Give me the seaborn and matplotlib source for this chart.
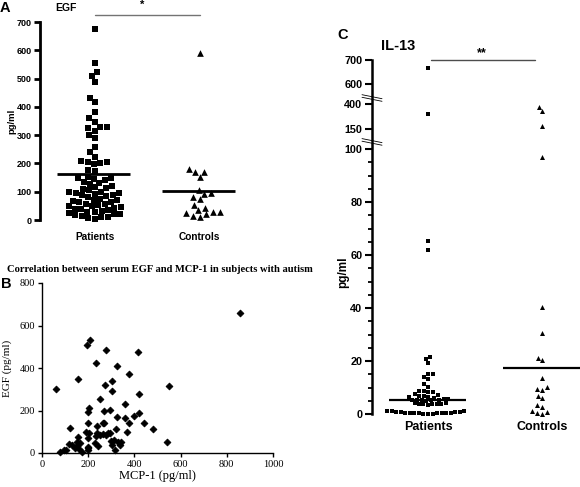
import numpy as np
import pandas as pd
import matplotlib
matplotlib.use("Agg")
import matplotlib.pyplot as plt
import matplotlib.transforms as mtransforms
import seaborn as sns

groups = ["Patients", "Controls"]

# panel A: serum EGF (pg/ml)
egf_patients = [677, 554, 522, 508, 488, 432, 418, 383, 359, 348, 330, 328, 324,
                316, 300, 289, 259, 239, 222, 209, 206, 205, 203, 197, 177, 175,
                153, 150, 148, 145, 140, 135, 132, 128, 120, 115, 112, 110, 105,
                100, 98, 95, 94, 92, 90, 88, 85, 80, 75, 72, 70, 68, 65, 62, 58,
                55, 53, 50, 48, 45, 42, 40, 38, 35, 32, 30, 28, 25, 22, 20, 18,
                15, 12, 10, 8, 5]
egf_controls = [592, 180, 169, 169, 151, 106, 94, 91, 82, 73, 53, 44, 35, 30,
                28, 24, 20, 15, 12]
egf_centre = [163, 103]

# panel B: MCP-1 vs EGF in patients
mcp1_x = [61, 157, 196, 207, 233, 279, 324, 416, 376, 550, 273, 304, 303, 419,
          359, 251, 204, 200, 269, 293, 324, 359, 376, 399, 421, 443, 479, 543,
          121, 197, 239, 264, 190, 204, 239, 250, 264, 286, 296, 319, 367, 154,
          200, 229, 243, 300, 304, 329, 336, 340, 314, 119, 153, 150, 164, 143,
          171, 197, 200, 79, 96, 104, 855, 130, 160, 235, 275, 310, 200, 270]
egf_y = [303, 347, 510, 532, 423, 487, 409, 475, 374, 314, 322, 339, 293, 279,
         232, 252, 213, 191, 198, 202, 168, 167, 143, 176, 187, 140, 115, 50,
         120, 140, 129, 140, 98, 93, 93, 86, 90, 93, 96, 114, 98, 75,
         72, 47, 31, 58, 39, 54, 39, 54, 16, 44, 50, 31, 47, 23,
         3, 23, 12, 5, 12, 16, 660, 38, 20, 80, 85, 60, 28, 142]

# panel C: serum IL-13 (pg/ml)
il13_patients = [667, 298, 65.3, 62.0, 21.6, 20.6, 19.1, 15.1, 15.1, 14.1, 13.1,
                 11.2, 10.3, 8.7, 8.7, 8.4, 8.4, 7.4, 7.2, 6.9, 6.8, 6.5, 6.5,
                 6.2, 5.4, 5.3, 5.2, 5.5, 5.1, 5.3, 5.6, 5.0, 3.9, 3.7, 4.0,
                 3.6, 3.8, 3.9, 3.5, 4.1, 1.2, 1.0, 0.9, 1.1, 0.8, 0.7, 0.6,
                 0.5, 0.5, 0.4, 0.4, 0.3, 0.3, 0.2, 0.2, 0.1, 0.1, 0.0]
il13_controls = [372, 335, 178, 97, 40.5, 30.7, 21.2, 20.4, 13.5, 10.1, 9.4,
                 9.1, 6.8, 5.9, 3.4, 2.8, 1.0, 0.6, 0.3, 0.0]
il13_centre = [5.3, 17.2]

# broken IL-13 axis: data value -> relative height
break_vals = [0, 100, 150, 400, 600, 700]
break_pos = [0, 265, 284.7, 310, 330, 354]
il13_ticks = [0, 20, 40, 60, 80, 100, 150, 400, 600, 700]
egf_ticks = list(range(0, 701, 100))


def fwd(v):
    return np.interp(v, break_vals, break_pos)


def inv(p):
    return np.interp(p, break_pos, break_vals)


def fx(px):
    return px / 580


def fy(py):
    return 1 - py / 487


sns.set_style("ticks")
plt.rcParams["font.family"] = ["Liberation Sans", "DejaVu Sans"]
plt.rcParams["font.weight"] = "bold"
for key in ["text.color", "axes.labelcolor", "xtick.color", "ytick.color", "axes.edgecolor"]:
    plt.rcParams[key] = "black"

fig = plt.figure(figsize=(5.8, 4.87), dpi=100)

dfA = pd.DataFrame({"group": ["Patients"] * len(egf_patients) + ["Controls"] * len(egf_controls),
                    "value": egf_patients + egf_controls})
dfC = pd.DataFrame({"group": ["Patients"] * len(il13_patients) + ["Controls"] * len(il13_controls),
                    "value": il13_patients + il13_controls})

# ---- panel A
axA = fig.add_axes([fx(40), fy(220), (250 - 40) / 580, (220 - 22) / 487])
sns.swarmplot(data=dfA[dfA.group == "Patients"], x="group", y="value", order=groups,
              marker="s", color="black", size=4.5, warn_thresh=1, ax=axA)
sns.swarmplot(data=dfA[dfA.group == "Controls"], x="group", y="value", order=groups,
              marker="^", color="black", size=4.8, warn_thresh=1, ax=axA)
axA.hlines(egf_centre, np.arange(2) - 0.36, np.arange(2) + 0.34, color="black", lw=2)
axA.set_xlim(-0.52, 1.48)
axA.set_ylim(0, 700)
axA.set_yticks(egf_ticks, [str(t) for t in egf_ticks], fontweight="bold")
axA.set_xticks([0, 1], groups, fontweight="bold")
for s in ["top", "right", "bottom"]:
    axA.spines[s].set_visible(False)
axA.spines["left"].set_linewidth(2)
axA.tick_params(axis="y", width=2, length=4, labelsize=6.5, pad=2)
axA.tick_params(axis="x", length=0, labelsize=7.3, pad=9)
axA.set_xlabel("")
axA.set_ylabel("pg/ml", fontsize=6.8, fontweight="bold")
axA.yaxis.set_label_coords(-0.11, 0.5)
for c in axA.collections:
    c.set_clip_on(False)
trA = mtransforms.blended_transform_factory(axA.transData, axA.transAxes)
axA.plot([0, 1], [1.035, 1.035], transform=trA, color="0.45", lw=1, clip_on=False)
axA.text(0.45, 1.085, "*", transform=trA, ha="center", va="center", fontsize=8)

# ---- panel B
axB = fig.add_axes([fx(42), fy(453), (273 - 42) / 580, (453 - 283) / 487])
sns.scatterplot(x=mcp1_x, y=egf_y, marker="D", color="black", s=12,
                edgecolor="black", linewidth=0.6, ax=axB)
axB.set_xlim(0, 1000)
axB.set_ylim(0, 800)
serif = dict(fontfamily="Liberation Serif", fontweight="normal", fontsize=7.5)
axB.set_xticks(range(0, 1001, 200), [str(t) for t in range(0, 1001, 200)], **serif)
axB.set_yticks(range(0, 801, 200), [str(t) for t in range(0, 801, 200)], **serif)
for s in ["top", "right"]:
    axB.spines[s].set_visible(False)
for s in ["left", "bottom"]:
    axB.spines[s].set_linewidth(1)
axB.tick_params(length=3, width=1, pad=2)
axB.set_xlabel("MCP-1 (pg/ml)", fontfamily="Liberation Serif", fontweight="normal",
               fontsize=9, labelpad=1)
axB.set_ylabel("EGF (pg/ml)", fontfamily="Liberation Serif", fontweight="normal",
               fontsize=8)
axB.yaxis.set_label_coords(-0.13, 0.5)
for c in axB.collections:
    c.set_clip_on(False)
fig.text(fx(7), fy(269), "Correlation between serum EGF and MCP-1 in subjects with autism",
         fontfamily="Liberation Serif", fontweight="bold", fontsize=7.6, va="center")

# ---- panel C
axC = fig.add_axes([fx(372), fy(414), (580 - 372) / 580, 354 / 487])
axC.set_yscale("function", functions=(fwd, inv))
sns.swarmplot(data=dfC[dfC.group == "Patients"], x="group", y="value", order=groups,
              marker="s", color="black", size=3.1, warn_thresh=1, ax=axC)
sns.swarmplot(data=dfC[dfC.group == "Controls"], x="group", y="value", order=groups,
              marker="^", color="black", size=3.6, warn_thresh=1, ax=axC)
axC.hlines(il13_centre, [-0.34, 0.66], [0.33, 1.34], color="black", lw=1.6, clip_on=False)
axC.set_xlim(-0.49, 1.33)
axC.set_ylim(0, 700)
axC.set_yticks(il13_ticks, [str(t) for t in il13_ticks], fontweight="bold")
axC.set_yticks([v for v in range(5, 100, 5) if v % 20], minor=True)
axC.set_xticks([0, 1], groups, fontweight="bold")
for s in ["top", "right", "bottom"]:
    axC.spines[s].set_visible(False)
axC.spines["left"].set_linewidth(1.8)
axC.tick_params(axis="y", which="major", width=1.5, length=5, labelsize=7.8, pad=2)
axC.tick_params(axis="y", which="minor", width=1.3, length=3)
axC.tick_params(axis="x", length=0, labelsize=9, pad=5)
axC.set_xlabel("")
axC.set_ylabel("pg/ml", fontsize=8.5, fontweight="bold")
axC.yaxis.set_label_coords(-0.11, 0.4)
for c in axC.collections:
    c.set_clip_on(False)
# break marks on the y axis
dx, dy = 10 / 208, 2 / 354
for v in [460, 118]:
    f = fwd(v) / break_pos[-1]
    for g in [-1.3 / 354, 1.3 / 354]:
        axC.plot([-dx, dx], [f + dy + g, f - dy + g], transform=axC.transAxes,
                 color="black", lw=0.6, clip_on=False)
trC = mtransforms.blended_transform_factory(axC.transData, axC.transAxes)
axC.plot([0.03, 0.94], [1.0, 1.0], transform=trC, color="0.3", lw=1, clip_on=False)
axC.text(0.47, 1.02, "**", transform=trC, ha="center", va="center", fontsize=9)

# panel letters and titles
fig.text(fx(0), fy(8), "A", fontsize=10.5, va="center")
fig.text(fx(55), fy(8), "EGF", fontsize=7.5, va="center")
fig.text(fx(1), fy(284), "B", fontsize=10.5, va="center")
fig.text(fx(337), fy(35), "C", fontsize=10.5, va="center")
fig.text(fx(381), fy(46), "IL-13", fontsize=10.5, va="center")

fig.savefig("out.png", dpi=100)
